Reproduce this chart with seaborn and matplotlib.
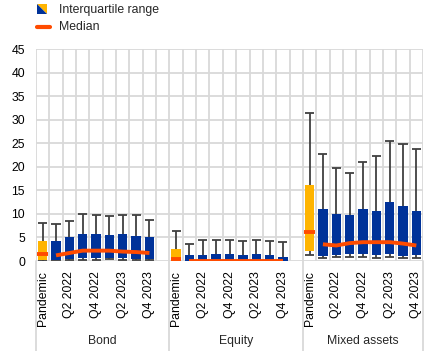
import numpy as np
import pandas as pd
import matplotlib
matplotlib.use("Agg")
import matplotlib.pyplot as plt
import matplotlib.transforms as mtransforms
from matplotlib.patches import Polygon
import seaborn as sns

# ---------------- data ----------------
groups = ["Bond", "Equity", "Mixed assets"]
periods = ["Pandemic", "Q1 2022", "Q2 2022", "Q3 2022", "Q4 2022",
           "Q1 2023", "Q2 2023", "Q3 2023", "Q4 2023"]
shown_labels = ["Pandemic", "Q2 2022", "Q4 2022", "Q2 2023", "Q4 2023"]

bond_q1 = [0.2, 0.2, 0.5, 0.7, 0.7, 0.6, 0.6, 0.5, 0.5]
bond_q3 = [4.3, 4.3, 5.0, 5.8, 5.8, 5.6, 5.8, 5.4, 5.0]
bond_low = [0.1, 0.2, 0.3, 0.3, 0.3, 0.4, 0.3, 0.3, 0.3]
bond_high = [8.0, 7.8, 8.4, 9.9, 9.8, 9.6, 9.8, 9.8, 8.7]
bond_med = [1.4, 1.2, 1.7, 2.2, 2.2, 2.2, 2.0, 1.9, 1.7]

equity_q1 = [0.1, 0.1, 0.1, 0.1, 0.1, 0.1, 0.1, 0.1, 0.1]
equity_q3 = [2.6, 1.3, 1.3, 1.5, 1.5, 1.3, 1.5, 1.3, 0.9]
equity_low = [0.0, 0.0, 0.0, 0.0, 0.0, 0.0, 0.0, 0.0, 0.0]
equity_high = [6.3, 3.6, 4.4, 4.4, 4.4, 4.2, 4.4, 4.2, 4.0]
equity_med = [0.5, 0.1, 0.1, 0.1, 0.1, 0.1, 0.1, 0.1, 0.1]

mixed_q1 = [2.2, 1.1, 1.35, 1.55, 1.55, 1.35, 1.55, 1.1, 1.35]
mixed_q3 = [16.2, 11.1, 10.0, 9.8, 11.1, 10.6, 12.6, 11.7, 10.6]
mixed_low = [1.2, 0.6, 0.8, 0.8, 0.8, 0.6, 0.8, 0.6, 0.6]
mixed_high = [31.4, 22.8, 19.7, 18.7, 21.1, 22.3, 25.5, 24.9, 23.8]
mixed_med = [6.2, 3.55, 3.3, 3.8, 4.0, 4.0, 4.0, 3.7, 3.3]

q1_all = [bond_q1, equity_q1, mixed_q1]
q3_all = [bond_q3, equity_q3, mixed_q3]
low_all = [bond_low, equity_low, mixed_low]
high_all = [bond_high, equity_high, mixed_high]
med_all = [bond_med, equity_med, mixed_med]

# ---------------- styling ----------------
BLUE = "#003299"
YELLOW = "#FFB400"
ORANGE = "#FF4B00"
WHISK = "#404040"
GRID = "#D9D9D9"
FS = 8.8

sns.set_theme(style="white")
plt.rcParams["font.family"] = ["Liberation Sans", "DejaVu Sans"]

# build slot table (10 slots per group, last group 9)
rows = []
order = []
for gi, g in enumerate(groups):
    for pi, p in enumerate(periods):
        key = f"{g}|{p}"
        order.append(key)
        rows.append(dict(slot=key, group=g, period=p,
                         q1=q1_all[gi][pi], q3=q3_all[gi][pi],
                         low=low_all[gi][pi], high=high_all[gi][pi],
                         med=med_all[gi][pi],
                         kind="Pandemic" if p == "Pandemic" else "Quarter"))
    if gi < len(groups) - 1:
        order.append(f"{g}|blank")
df = pd.DataFrame(rows)
df["iqr"] = df["q3"] - df["q1"]
df["pos"] = df["slot"].map({k: i for i, k in enumerate(order)})

fig = plt.figure(figsize=(4.40, 3.51), dpi=100)
ax = fig.add_axes([36 / 440, 1 - 261 / 351, (423 - 36) / 440, (261 - 49.3) / 351])

BW = 0.70
# whiskers (behind boxes)
ax.vlines(df["pos"], df["low"], df["high"], color=WHISK, lw=1.3, zorder=2)
ax.hlines(df["high"], df["pos"] - 0.34, df["pos"] + 0.34, color=WHISK, lw=1.3, zorder=2)
ax.hlines(df["low"], df["pos"] - 0.34, df["pos"] + 0.34, color=WHISK, lw=1.3, zorder=2)

# boxes
for kind, col in [("Pandemic", YELLOW), ("Quarter", BLUE)]:
    sub = df[df["kind"] == kind].sort_values("pos")
    sns.barplot(data=sub, x="slot", y="iqr", order=order, color=col,
                saturation=1, errorbar=None, width=BW, linewidth=0,
                bottom=sub["q1"].values, ax=ax, zorder=3)

# medians
for g in groups:
    sub = df[(df["group"] == g) & (df["kind"] == "Quarter")]
    sns.lineplot(data=sub, x="pos", y="med", color=ORANGE, lw=2.8,
                 ax=ax, zorder=4, legend=False, solid_capstyle="butt")
pan = df[df["kind"] == "Pandemic"]
ax.hlines(pan["med"], pan["pos"] - 0.4, pan["pos"] + 0.4, color=ORANGE, lw=2.8, zorder=4)

# axes
ax.set_xlim(-0.5, len(order) - 0.5)
ax.set_ylim(0, 45)
ax.set_yticks(np.arange(0, 46, 5))
ax.yaxis.grid(True, color=GRID, lw=1.3)
ax.set_xticks(np.arange(-0.5, len(order), 1.0), minor=True)
ax.xaxis.grid(True, which="minor", color=GRID, lw=1.3)
ax.xaxis.grid(False, which="major")
ax.set_axisbelow(True)

tick_pos = df[df["period"].isin(shown_labels)]["pos"].tolist()
tick_lab = df[df["period"].isin(shown_labels)]["period"].tolist()
ax.set_xticks(tick_pos)
ax.set_xticklabels(tick_lab, rotation=90, fontsize=FS, color="#000000")
ax.tick_params(axis="x", which="both", length=0, pad=7)
ax.tick_params(axis="y", length=0, pad=8, labelsize=FS, labelcolor="#000000")
ax.set_xlabel("")
ax.set_ylabel("")
for s in ax.spines.values():
    s.set_visible(False)

# group separators and labels
trans = mtransforms.blended_transform_factory(ax.transData, ax.transAxes)
bounds = [-0.5, 9.5, 19.5, 28.5]
for b in bounds:
    ax.plot([b, b], [0, -0.43], transform=trans, color=GRID, lw=1.3, clip_on=False)
for gi, g in enumerate(groups):
    c = (bounds[gi] + bounds[gi + 1]) / 2
    ax.text(c, -0.376, g, transform=trans, ha="center", va="center", fontsize=FS)

# legend
tri1 = Polygon([[37 / 440, 1 - 4 / 351], [47 / 440, 1 - 4 / 351], [47 / 440, 1 - 14 / 351]],
               closed=True, facecolor=YELLOW, edgecolor="none", transform=fig.transFigure)
tri2 = Polygon([[37 / 440, 1 - 4 / 351], [47 / 440, 1 - 14 / 351], [37 / 440, 1 - 14 / 351]],
               closed=True, facecolor=BLUE, edgecolor="none", transform=fig.transFigure)
fig.patches.extend([tri1, tri2])
fig.add_artist(plt.Line2D([37 / 440, 50 / 440], [1 - 26.8 / 351, 1 - 26.8 / 351],
                          color=ORANGE, lw=3, transform=fig.transFigure))
fig.text(59 / 440, 1 - 9.5 / 351, "Interquartile range", fontsize=FS, va="center", ha="left")
fig.text(59 / 440, 1 - 27 / 351, "Median", fontsize=FS, va="center", ha="left")

fig.savefig("out.png", dpi=100)
